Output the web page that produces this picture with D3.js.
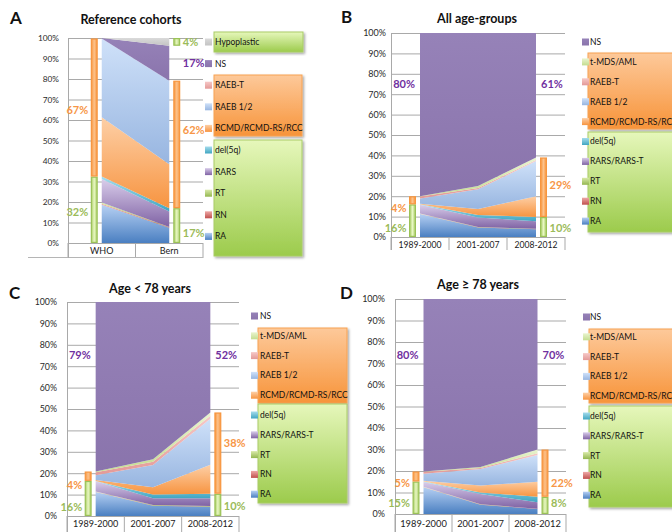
<!DOCTYPE html>
<html>
<head>
<meta charset="utf-8">
<script src="https://cdn.jsdelivr.net/npm/d3@7"></script>
<style>
  html, body { margin: 0; padding: 0; background: #fff; }
  svg { display: block; }
</style>
</head>
<body>
<svg id="chart" width="672" height="532"></svg>
<script>
// ---------- data (percent of cases) ----------
const refCohorts = ["WHO", "Bern"];
const refSubtypes = ["RA", "RN", "RT", "RARS", "del(5q)", "RCMD/RCMD-RS/RCC", "RAEB 1/2", "RAEB-T", "NS", "Hypoplastic"];
const refWHO  = [18.6, 0.6, 0.5, 11.5, 1.2, 29.0, 38.4, 0.0, 0.2, 0.0];
const refBern = [7.5, 0.2, 0.1, 7.6, 1.6, 21.4, 40.8, 0.0, 17.0, 3.8];

const periods = ["1989-2000", "2001-2007", "2008-2012"];
const periodSubtypes = ["RA", "RN", "RT", "RARS/RARS-T", "del(5q)", "RCMD/RCMD-RS/RCC", "RAEB 1/2", "RAEB-T", "t-MDS/AML", "NS"];

const allAges1989 = [11.3, 0.1, 0.1, 4.3, 0.2, 0.3, 2.6, 0.9, 0.2, 80.0];
const allAges2001 = [4.7, 0.1, 0.1, 4.7, 1.2, 2.9, 9.7, 0.6, 1.0, 75.0];
const allAges2008 = [3.8, 0.1, 0.1, 3.7, 2.1, 10.2, 17.2, 0.6, 1.2, 61.0];

const under78_1989 = [11.2, 0.1, 0.1, 4.8, 0.2, 0.4, 2.2, 1.5, 0.3, 79.2];
const under78_2001 = [4.8, 0.1, 0.2, 3.2, 1.8, 3.3, 10.4, 1.6, 1.1, 73.5];
const under78_2008 = [4.3, 0.1, 0.3, 3.6, 2.1, 13.5, 21.5, 1.5, 1.5, 51.6];

const over78_1989 = [12.5, 0.1, 0.1, 2.2, 0.2, 0.4, 3.2, 1.0, 0.1, 80.2];
const over78_2001 = [4.3, 0.1, 0.1, 4.8, 0.7, 3.2, 7.7, 0.5, 0.5, 78.1];
const over78_2008 = [2.3, 0.1, 0.1, 3.0, 2.5, 7.0, 12.5, 0.8, 1.7, 70.0];

const yTicks = [0, 10, 20, 30, 40, 50, 60, 70, 80, 90, 100];

// subtype groupings summarised by the side bars
const lowRiskGroup = ["RA", "RN", "RT", "RARS", "RARS/RARS-T", "del(5q)"];
const highRiskGroup = ["RCMD/RCMD-RS/RCC", "RAEB 1/2", "RAEB-T", "t-MDS/AML"];

// ---------- styles ----------
const fills = {
  "RA": ["#b6d0f3", "#4a7fc1"],
  "RN": ["#eea9a7", "#c0504d"],
  "RT": ["#d9eaa9", "#93b64f"],
  "RARS": ["#d9cdea", "#7f62a4"],
  "RARS/RARS-T": ["#d9cdea", "#7f62a4"],
  "del(5q)": ["#a6dcec", "#40a6c2"],
  "RCMD/RCMD-RS/RCC": ["#fdcfa6", "#f79440"],
  "RAEB 1/2": ["#cfe1f9", "#97b5e0"],
  "RAEB-T": ["#f6c8c7", "#e39997"],
  "t-MDS/AML": ["#e9f4cf", "#c4dd90"],
  "NS": ["#9682b8", "#8a74ac"],
  "Hypoplastic": ["#dadada", "#c3c3c3"]
};
const GREEN = "#9bbb59", ORANGE = "#f79646", PURPLE = "#7030a0";
const FONT = 'Lato, "Liberation Sans", sans-serif';

const svg = d3.select("#chart");
const defs = svg.append("defs");

function vGrad(id, top, bottom) {
  const g = defs.append("linearGradient").attr("id", id)
    .attr("x1", 0).attr("y1", 0).attr("x2", 0).attr("y2", 1);
  g.append("stop").attr("offset", "0%").attr("stop-color", top);
  g.append("stop").attr("offset", "100%").attr("stop-color", bottom);
}
function hGrad(id, edge, mid) {
  const g = defs.append("linearGradient").attr("id", id)
    .attr("x1", 0).attr("y1", 0).attr("x2", 1).attr("y2", 0);
  g.append("stop").attr("offset", "0%").attr("stop-color", edge);
  g.append("stop").attr("offset", "50%").attr("stop-color", mid);
  g.append("stop").attr("offset", "100%").attr("stop-color", edge);
}
const gradId = {};
Object.keys(fills).forEach((k, i) => { gradId[k] = "sub" + i; vGrad("sub" + i, fills[k][0], fills[k][1]); });
vGrad("boxGreen", "#e6f7bb", "#9ccb4c");
vGrad("boxOrange", "#fdc99a", "#f7943a");
hGrad("barGreen", "#a9cd66", "#e8f7c2");
hGrad("barOrange", "#f7963f", "#fcc28b");

const shadow = defs.append("filter").attr("id", "shadow")
  .attr("x", "-10%").attr("y", "-10%").attr("width", "130%").attr("height", "130%");
shadow.append("feDropShadow").attr("dx", 1.5).attr("dy", 1.5)
  .attr("stdDeviation", 1.2).attr("flood-color", "#000").attr("flood-opacity", 0.35);

// ---------- panel drawing ----------
function drawPanel(p) {
  const g = svg.append("g");
  const { x0, x1, y0, y1 } = p.plot;

  const table = p.rows.map((vals, i) => {
    const row = { cat: p.categories[i] };
    p.keys.forEach((k, j) => { row[k] = vals[j]; });
    return row;
  });
  const series = d3.stack().keys(p.keys)(table);

  const x = d3.scalePoint().domain(p.categories).range([x0, x1]).padding(0.5);
  const band = d3.scaleBand().domain(p.categories).range([x0, x1]);
  const y = d3.scaleLinear().domain([0, 100]).range([y1, y0]);

  // panel letter and title
  g.append("text").attr("x", p.letter[0]).attr("y", p.letter[1])
    .attr("font-family", FONT).attr("font-weight", "bold")
    .attr("font-size", 17).attr("fill", "#111").text(p.id);
  g.append("text").attr("x", p.title[0]).attr("y", p.title[1]).attr("text-anchor", "middle")
    .attr("font-family", FONT).attr("font-weight", "bold").attr("font-size", 12.5)
    .attr("fill", "#111").text(p.titleText);

  // gridlines and percentage ticks
  const ax = g.append("g").attr("transform", `translate(${x0},0)`)
    .call(d3.axisLeft(y).tickValues(yTicks).tickFormat(d => d + "%")
      .tickSize(-(x1 - x0)).tickPadding(p.tickGap));
  ax.attr("font-family", FONT).attr("font-size", p.tickFont);
  ax.select(".domain").remove();
  ax.selectAll(".tick line").attr("stroke", "#a9a9a9").attr("stroke-width", 1);
  ax.selectAll(".tick text").attr("fill", "#2a2a2a");

  // category boxes under the axis
  const edges = p.categories.map(c => band(c)).concat([x1]);
  g.selectAll(".sep").data(edges).join("line")
    .attr("x1", d => d).attr("x2", d => d)
    .attr("y1", y1).attr("y2", y1 + p.catBox)
    .attr("stroke", "#a9a9a9");
  if (p.catFloor) {
    g.append("line").attr("x1", p.catFloor[0]).attr("x2", x1)
      .attr("y1", p.catFloor[1]).attr("y2", p.catFloor[1]).attr("stroke", "#b5b5b5");
  }
  g.selectAll(".cat").data(p.categories).join("text")
    .attr("x", d => x(d)).attr("y", p.catY).attr("dy", "0.35em").attr("text-anchor", "middle")
    .attr("font-family", FONT).attr("font-size", p.catFont).attr("fill", "#1a1a1a")
    .text(d => d);

  // stacked areas
  const area = d3.area()
    .x(d => x(d.data.cat))
    .y0(d => y(d[0]))
    .y1(d => y(d[1]));
  g.selectAll(".layer").data(series).join("path")
    .attr("d", area)
    .attr("fill", d => `url(#${gradId[d.key]})`);

  // axis frame lines
  g.append("line").attr("x1", x0 + 0.5).attr("x2", x0 + 0.5).attr("y1", y0).attr("y2", y1 + p.catBox)
    .attr("stroke", "#a9a9a9");
  g.append("line").attr("x1", x0).attr("x2", x1).attr("y1", y1 + 0.5).attr("y2", y1 + 0.5)
    .attr("stroke", "#a9a9a9");

  // side bars + percentage labels at the first and last category
  const barW = 7, barGap = 4, labelGap = 2.5;
  const sides = [{ i: 0, side: "left" }, { i: p.categories.length - 1, side: "right" }];
  sides.forEach(s => {
    const cx = x(p.categories[s.i]);
    const bx = s.side === "left" ? cx - barGap - barW : cx + barGap;
    p.groups.forEach(grp => {
      const layers = series.filter(se => grp.keys.includes(se.key));
      if (!layers.length) return;
      const total = d3.sum(layers, se => se[s.i].data[se.key]);
      const pct = Math.round(total);
      if (pct === 0) return;
      const lo = d3.min(layers, se => se[s.i][0]);
      const hi = d3.max(layers, se => se[s.i][1]);
      if (grp.bar) {
        g.append("rect")
          .attr("x", bx + 0.6).attr("width", barW - 1.2)
          .attr("y", y(hi) + 0.6).attr("height", Math.max(0, y(lo) - y(hi) - 1.2))
          .attr("fill", grp.fill).attr("stroke", grp.stroke).attr("stroke-width", 1.2);
      }
      const lvl = (p.labelLevels[s.side] || {})[grp.name];
      const ly = y(lvl === undefined ? (lo + hi) / 2 : lvl);
      let lx;
      if (grp.atArea) {
        lx = s.side === "left" ? cx - 5 : cx + 5;
      } else {
        lx = s.side === "left" ? bx - labelGap : bx + barW + labelGap;
      }
      const anchor = s.side === "left" ? "end" : "start";
      g.append("text").attr("x", lx).attr("y", ly).attr("dy", "0.36em")
        .attr("text-anchor", anchor)
        .attr("font-family", FONT).attr("font-weight", "bold").attr("font-size", 11)
        .attr("fill", grp.color).text(pct + "%");
    });
  });

  // legend boxes and entries
  p.legend.boxes.forEach(b => {
    g.append("rect").attr("x", b[0]).attr("y", b[1]).attr("width", b[2]).attr("height", b[3])
      .attr("fill", `url(#${b[4] === "green" ? "boxGreen" : "boxOrange"})`)
      .attr("stroke", b[4] === "green" ? "#a9cc66" : "#f7a252").attr("stroke-width", 1)
      .attr("filter", "url(#shadow)");
  });
  const items = p.keys.slice().reverse();
  items.forEach((k, i) => {
    const iy = p.legend.y + i * p.legend.step;
    g.append("rect").attr("x", p.legend.mx).attr("y", iy - 3.5).attr("width", 7).attr("height", 7)
      .attr("fill", `url(#${gradId[k]})`);
    g.append("text").attr("x", p.legend.tx).attr("y", iy).attr("dy", "0.35em")
      .attr("font-family", FONT).attr("font-size", 8.5).attr("fill", "#111").text(k);
  });
}

function groupsFor(hasHypo, nsAtArea) {
  const list = [
    { name: "green", keys: lowRiskGroup, bar: true, fill: "url(#barGreen)", stroke: "#9bc257", color: GREEN },
    { name: "orange", keys: highRiskGroup, bar: true, fill: "url(#barOrange)", stroke: "#f7963f", color: ORANGE },
    { name: "ns", keys: ["NS"], bar: false, atArea: nsAtArea, color: PURPLE }
  ];
  if (hasHypo) list.push({ name: "hypo", keys: ["Hypoplastic"], bar: true, fill: "url(#barGreen)", stroke: "#9bc257", color: GREEN });
  return list;
}

const panels = [
  {
    id: "A", titleText: "Reference cohorts", letter: [10, 24], title: [131, 24],
    categories: refCohorts, keys: refSubtypes, rows: [refWHO, refBern],
    plot: { x0: 68, x1: 203, y0: 38, y1: 243 },
    tickGap: 9, tickFont: 8.3, catBox: 15, catY: 251, catFont: 9,
    catFloor: [28, 257.5],
    groups: groupsFor(true, false),
    labelLevels: { left: { green: 15, orange: 65 }, right: { green: 5, orange: 55 } },
    legend: {
      y: 42, step: 21.6, mx: 205, tx: 215,
      boxes: [[214, 32, 89, 20, "green"], [214, 75, 88, 61, "orange"], [214, 140, 88, 116, "green"]]
    }
  },
  {
    id: "B", titleText: "All age-groups", letter: [341, 23], title: [477, 23],
    categories: periods, keys: periodSubtypes, rows: [allAges1989, allAges2001, allAges2008],
    plot: { x0: 391, x1: 565, y0: 33, y1: 237 },
    tickGap: 5, tickFont: 9, catBox: 13, catY: 245, catFont: 8.6,
    groups: groupsFor(false, true),
    labelLevels: { left: { green: 4.4, orange: 14, ns: 75 }, right: { green: 4.4, orange: 25.5, ns: 75 } },
    legend: {
      y: 42, step: 19.9, mx: 582, tx: 590,
      boxes: [[588, 53, 89, 76, "orange"], [588, 132, 89, 100, "green"]]
    }
  },
  {
    id: "C", titleText: "Age < 78 years", letter: [9, 299], title: [150, 293],
    categories: periods, keys: periodSubtypes, rows: [under78_1989, under78_2001, under78_2008],
    plot: { x0: 67, x1: 239, y0: 302, y1: 516 },
    tickGap: 10, tickFont: 8.8, catBox: 20, catY: 524, catFont: 9,
    groups: groupsFor(false, true),
    labelLevels: { left: { green: 4.2, orange: 14.5, ns: 75 }, right: { green: 4.5, orange: 34, ns: 75 } },
    legend: {
      y: 316, step: 19.8, mx: 251, tx: 260,
      boxes: [[258, 328, 89, 75, "orange"], [258, 404, 89, 99, "green"]]
    }
  },
  {
    id: "D", titleText: "Age \u2265 78 years", letter: [340, 299], title: [478, 289],
    categories: periods, keys: periodSubtypes, rows: [over78_1989, over78_2001, over78_2008],
    plot: { x0: 395, x1: 566, y0: 299, y1: 514 },
    tickGap: 10, tickFont: 9, catBox: 20, catY: 524, catFont: 9.3,
    groups: groupsFor(false, true),
    labelLevels: { left: { green: 5, orange: 14.4, ns: 74 }, right: { green: 5, orange: 14.4, ns: 74 } },
    legend: {
      y: 317, step: 19.8, mx: 583, tx: 590,
      boxes: [[589, 329, 89, 74, "orange"], [589, 406, 89, 101, "green"]]
    }
  }
];

panels.forEach(drawPanel);
</script>
</body>
</html>
